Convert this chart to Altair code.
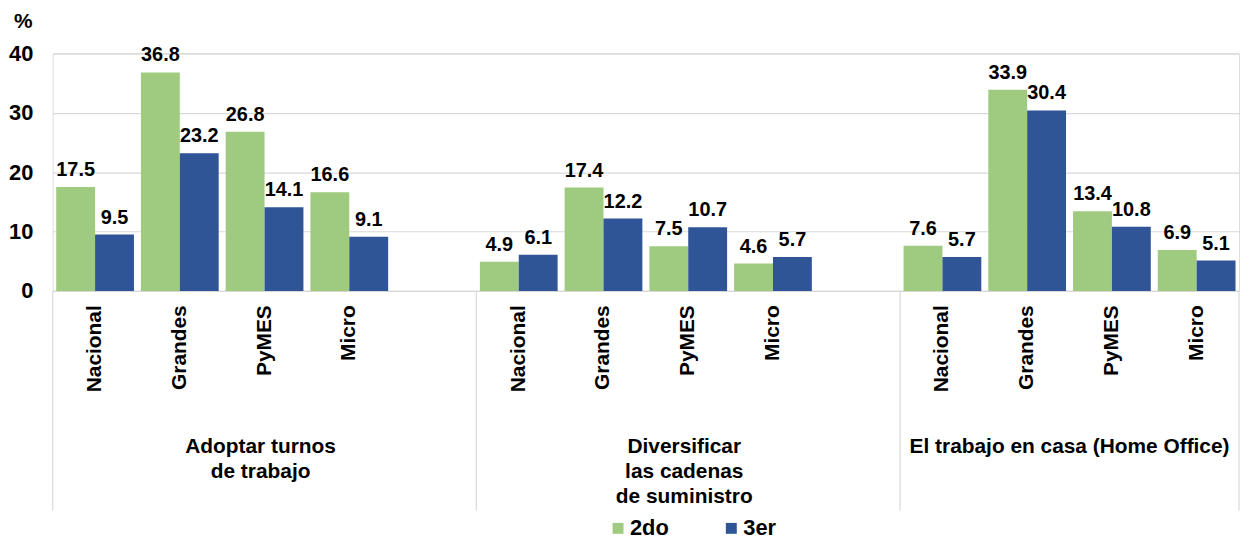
import altair as alt
import pandas as pd

FONT = "Liberation Sans, Arial, sans-serif"
GREEN = "#9FCB81"
BLUE = "#2F5597"
GRID = "#D9D9D9"

group_ids = ["g1", "g2", "g3"]
group_labels = ["Adoptar turnos\nde trabajo", "Diversificar\nlas cadenas\nde suministro",
                "El trabajo en casa (Home Office)"]
categories = ["Nacional", "Grandes", "PyMES", "Micro"]
series = ["2do", "3er"]
vals_2do = [[17.5, 36.8, 26.8, 16.6], [4.9, 17.4, 7.5, 4.6], [7.6, 33.9, 13.4, 6.9]]
vals_3er = [[9.5, 23.2, 14.1, 9.1], [6.1, 12.2, 10.7, 5.7], [5.7, 30.4, 10.8, 5.1]]

# slot domain (empty slot after groups 1 and 2)
domain = []
for i, g in enumerate(group_ids):
    domain += [f"{g}|{c}" for c in categories]
    if i < len(group_ids) - 1:
        domain.append(f"{g}|")

rows = []
for gi, g in enumerate(group_ids):
    for ci, c in enumerate(categories):
        rows.append({"key": f"{g}|{c}", "series": "2do", "value": vals_2do[gi][ci]})
        rows.append({"key": f"{g}|{c}", "series": "3er", "value": vals_3er[gi][ci]})
df = pd.DataFrame(rows)

W, H = 1194, 239

xscale = alt.Scale(domain=domain, paddingInner=0, paddingOuter=0)
xaxis = alt.Axis(title=None, labelExpr="split(datum.value, '|')[1]", labelAngle=270,
                 labelAlign="right", labelBaseline="middle", labelPadding=14,
                 labelFontSize=21, labelFontWeight="bold", labelFont=FONT, labelColor="#000000",
                 ticks=False, domainColor=GRID, domainWidth=1, grid=False, labelOverlap=False)
yaxis = alt.Axis(values=[0, 10, 20, 30, 40], title="%", titleAngle=0, titleX=-30, titleY=-32,
                 titleAlign="center", titleBaseline="middle", titleFontSize=21,
                 titleFont=FONT, titleFontWeight="bold", titleColor="#000000",
                 labelFontSize=22, labelFont=FONT, labelFontWeight="bold", labelColor="#000000",
                 labelPadding=20, ticks=False, domain=False, gridColor=GRID, gridWidth=1.2)

X = alt.X("key:N", scale=xscale, axis=xaxis, sort=domain)
XO = alt.XOffset("series:N", scale=alt.Scale(domain=series, paddingOuter=0.09, paddingInner=0))
Y = alt.Y("value:Q", scale=alt.Scale(domain=[0, 40]), axis=yaxis)

bars = alt.Chart(df).mark_bar().encode(
    x=X, xOffset=XO, y=Y,
    color=alt.Color("series:N", scale=alt.Scale(domain=series, range=[GREEN, BLUE]),
                    legend=alt.Legend(title=None, orient="none", legendX=558, legendY=467,
                                      direction="horizontal", symbolType="square",
                                      symbolSize=121, symbolStrokeWidth=0, labelFontSize=22,
                                      labelFont=FONT, labelFontWeight="bold",
                                      labelColor="#000000", columnPadding=51, labelOffset=1,
                                      padding=0)),
)

texts = alt.Chart(df).mark_text(baseline="alphabetic", dy=-11, fontSize=20, font=FONT,
                                fontWeight="bold", color="#000000").encode(
    x=alt.X("key:N", scale=xscale, sort=domain, axis=xaxis), xOffset=XO, y=Y,
    text=alt.Text("value:Q", format=".1f"),
)

sep_start = pd.DataFrame({"key": [f"{g}|{categories[0]}" for g in group_ids]})
sep_end = pd.DataFrame({"key": [f"{group_ids[-1]}|{categories[-1]}"]})
rule_kw = dict(color=GRID, strokeWidth=1.2)
seps1 = alt.Chart(sep_start).mark_rule(**rule_kw).encode(
    x=alt.X("key:N", scale=xscale, sort=domain, bandPosition=0, axis=xaxis),
    y=alt.value(H), y2=alt.value(460))
seps2 = alt.Chart(sep_end).mark_rule(**rule_kw).encode(
    x=alt.X("key:N", scale=xscale, sort=domain, bandPosition=1, axis=xaxis),
    y=alt.value(H), y2=alt.value(460))

gl_a = pd.DataFrame({"key": [f"{g}|PyMES" for g in group_ids[:2]], "label": group_labels[:2]})
gl_b = pd.DataFrame({"key": [f"{group_ids[2]}|PyMES"], "label": [group_labels[2]]})
gtext_kw = dict(fontSize=21, font=FONT, fontWeight="bold", color="#000000", align="center",
                baseline="top", lineBreak="\n", lineHeight=25)
glabels1 = alt.Chart(gl_a).mark_text(dx=-4, **gtext_kw).encode(
    x=alt.X("key:N", scale=xscale, sort=domain, axis=xaxis),
    y=alt.value(385), text="label:N")
glabels2 = alt.Chart(gl_b).mark_text(**gtext_kw).encode(
    x=alt.X("key:N", scale=xscale, sort=domain, bandPosition=0, axis=xaxis),
    y=alt.value(385), text="label:N")

chart = alt.layer(bars, texts, seps1, seps2, glabels1, glabels2).properties(
    width=W, height=H,
    autosize=alt.AutoSizeParams(type="none"),
    padding={"left": 45, "top": 44, "right": 3, "bottom": 248},
).configure_view(stroke=None).configure(background="#ffffff")

chart.save("out.html", embed_options={"renderer": "svg", "actions": False})
